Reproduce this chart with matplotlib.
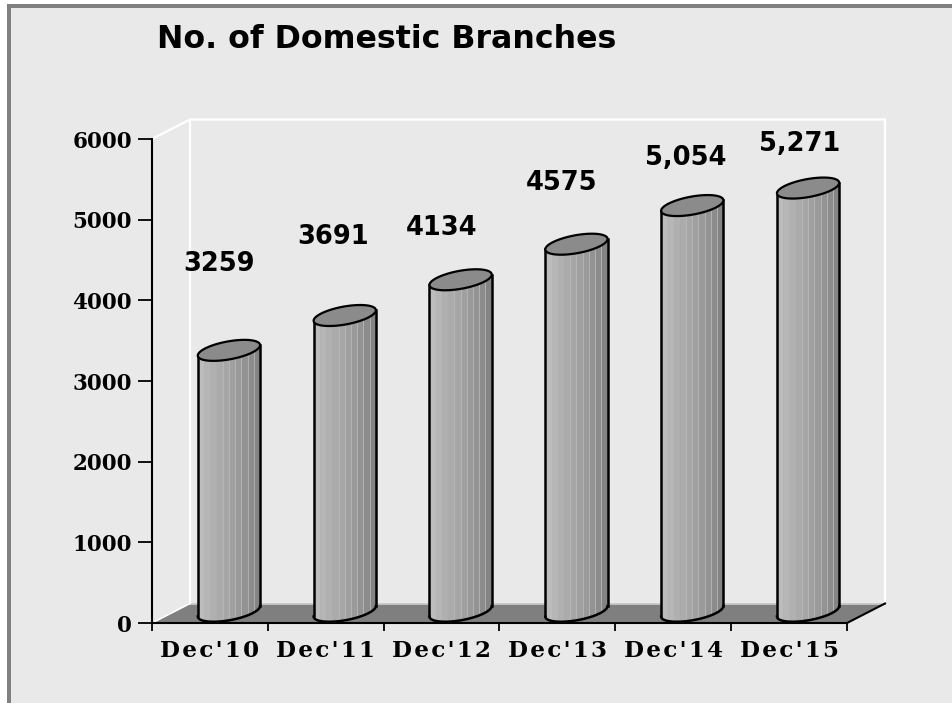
import numpy as np
import matplotlib
matplotlib.use('Agg')
import matplotlib.pyplot as plt
from matplotlib.patches import Rectangle, Polygon

W, H = 953, 703

categories = ["Dec'10", "Dec'11", "Dec'12", "Dec'13", "Dec'14", "Dec'15"]
branches = [3259, 3691, 4134, 4575, 5054, 5271]
value_labels = ['3259', '3691', '4134', '4575', '5,054', '5,271']
y_ticks = [0, 1000, 2000, 3000, 4000, 5000, 6000]

# where the value labels sit, relative to the category centre (px right, px above bar)
label_dx = [9, 7, 0, 4, 12, 11]
label_dy = [96, 88, 62, 71, 57, 54]

# front axes box in pixels
AX_L, AX_R, AX_T, AX_B = 152, 847, 139, 623
DEPTH_X, DEPTH_Y = 38, 19.5

bands = ['#bcbcbc', '#b6b6b6', '#b0b0b0', '#ababab', '#a6a6a6',
         '#a0a0a0', '#9a9a9a', '#939393', '#8c8c8c', '#848484']

fig = plt.figure(figsize=(W / 100, H / 100), dpi=100, facecolor='white')
# grey panel with a thick border on the top and left
fig.add_artist(Rectangle((7 / W, 0), 1, 1 - 4 / H, transform=fig.transFigure,
                         facecolor='#808080', edgecolor='none', zorder=-3))
fig.add_artist(Rectangle((11 / W, 0), 1, 1 - 8 / H, transform=fig.transFigure,
                         facecolor='#e9e9e9', edgecolor='none', zorder=-2))

ax = fig.add_axes([AX_L / W, 1 - AX_B / H, (AX_R - AX_L) / W, (AX_B - AX_T) / H])
ax.set_xlim(0, len(categories))
ax.set_ylim(0, 6000)
ax.patch.set_visible(False)

# data units per pixel
sx = len(categories) / (AX_R - AX_L)
sy = 6000 / (AX_B - AX_T)
dx, dy = DEPTH_X * sx, DEPTH_Y * sy
n = len(categories)

# floor and walls
ax.add_patch(Polygon([(0, 0), (n, 0), (n + dx, dy), (dx, dy)], closed=True,
                     facecolor='#7f7f7f', edgecolor='none', clip_on=False, zorder=1))
wall = dict(color='white', lw=1.6, clip_on=False, zorder=1, solid_capstyle='butt')
ax.plot([0, dx, n + dx, n + dx], [6000, 6000 + dy, 6000 + dy, dy], **wall)
ax.plot([dx, dx], [6000 + dy, dy], **wall)
ax.plot([0, dx], [0, dy], color='white', lw=1.2, clip_on=False, zorder=2)
ax.plot([dx, n + dx], [dy, dy], color='#cfcfcf', lw=1.2, clip_on=False, zorder=1.5)
ax.plot([n, n + dx], [0, dy], color='black', lw=1.5, clip_on=False, zorder=2)

# cylinders: an oblique circle swept up from the floor
RU, RV_X, RV_Y = 27, 15.5, 10.5
t_side = np.arctan2(RV_X, RU)
t = np.linspace(t_side + np.pi, t_side + 2 * np.pi, 200)
arc_x = (RU * np.cos(t) + RV_X * np.sin(t)) * sx
arc_y = RV_Y * np.sin(t) * sy
t_all = np.linspace(0, 2 * np.pi, 120)
rim_x = (RU * np.cos(t_all) + RV_X * np.sin(t_all)) * sx
rim_y = RV_Y * np.sin(t_all) * sy

edges = np.linspace(arc_x[0], arc_x[-1], len(bands) + 1)
for i, val in enumerate(branches):
    cx = i + 0.5 + dx / 2
    base = dy / 2 + 2 * sy
    top = val + dy / 2
    # solid backing so the seams between bands do not show the floor
    ax.fill_between(cx + arc_x, base + arc_y, top + arc_y, color='#a6a6a6', lw=0,
                    clip_on=False, zorder=2.9)
    for j, col in enumerate(bands):
        xs = np.linspace(edges[j], edges[j + 1], 12)
        ys = np.interp(xs, arc_x, arc_y)
        ax.fill_between(cx + xs, base + ys, top + ys, color=col, lw=0,
                        clip_on=False, zorder=3)
        if j >= 4:
            ax.plot([cx + edges[j]] * 2, [base + ys[0], top + ys[0]], color='#bdbdbd',
                    lw=0.5, clip_on=False, zorder=3.2)
    ax.plot(cx + arc_x, base + arc_y, color='black', lw=1.8, clip_on=False, zorder=4)
    ax.plot([cx + arc_x[0]] * 2, [base + arc_y[0], top + arc_y[0]], color='black',
            lw=1.8, clip_on=False, zorder=4)
    ax.plot([cx + arc_x[-1]] * 2, [base + arc_y[-1], top + arc_y[-1]], color='black',
            lw=1.8, clip_on=False, zorder=4)
    ax.add_patch(Polygon(np.c_[cx + rim_x, top + rim_y], closed=True, facecolor='#8b8b8b',
                         edgecolor='black', lw=1.6, clip_on=False, zorder=5))
    ax.text(i + 0.5 + label_dx[i] * sx, val + label_dy[i] * sy, value_labels[i],
            ha='center', va='center', fontsize=18.5, fontweight='bold',
            family='DejaVu Sans', color='black', clip_on=False, zorder=6)

for s in ['top', 'right']:
    ax.spines[s].set_visible(False)
for s in ['left', 'bottom']:
    ax.spines[s].set_linewidth(1.5)
    ax.spines[s].set_zorder(2.5)

ax.set_yticks(y_ticks)
ax.set_yticklabels([str(v) for v in y_ticks], family='DejaVu Serif',
                   fontsize=15.5, fontweight='bold')
ax.set_xticks(range(n + 1))
ax.set_xticklabels([])
ax.tick_params(axis='y', length=10, width=1.3, pad=4.5)
ax.tick_params(axis='x', length=6, width=1.3)

for i, cat in enumerate(categories):
    ax.annotate('\u200a'.join(cat), (i + 0.5, 0), xytext=(0, -28), textcoords='offset pixels',
                ha='center', va='center', family='DejaVu Serif',
                fontsize=16.6, fontweight='bold', annotation_clip=False)

fig.text(157 / W, 1 - 48 / H, 'No. of Domestic Branches', fontsize=22.8, fontweight='bold',
         family='DejaVu Sans', ha='left', va='baseline')

fig.savefig('out.png', dpi=100, facecolor=fig.get_facecolor())
